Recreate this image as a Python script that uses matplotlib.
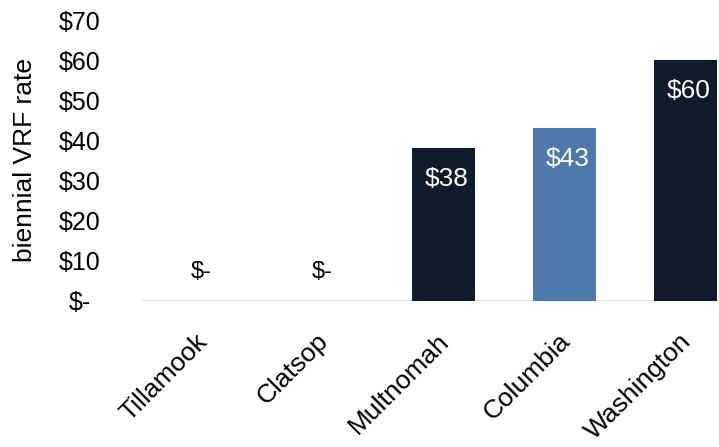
import matplotlib
matplotlib.use("Agg")
import matplotlib.pyplot as plt
from matplotlib.transforms import ScaledTranslation

plt.rcParams['font.family'] = ['Liberation Sans', 'DejaVu Sans']

counties = ['Tillamook', 'Clatsop', 'Multnomah', 'Columbia', 'Washington']
rates = [0, 0, 38, 43, 60]
rate_labels = ['$-', '$-', '$38', '$43', '$60']
yticks = [0, 10, 20, 30, 40, 50, 60, 70]
ytick_labels = ['$-', '$10', '$20', '$30', '$40', '$50', '$60', '$70']

dark = '#0f1b2b'
blue = '#4e7aab'
colors = [dark, dark, dark, blue, dark]

fig = plt.figure(figsize=(7.19, 4.47), dpi=100)
ax = fig.add_axes([141 / 719, 146 / 447, 578 / 719, 301 / 447])

x = range(len(counties))
ax.bar(x, rates, width=0.52, color=colors)
ax.axhline(0, color='#e6e6e6', lw=2, zorder=0)

for i, (v, lab) in enumerate(zip(rates, rate_labels)):
    if v > 0:
        ax.annotate(lab, (i, v), xytext=(2.5, -22), textcoords='offset points',
                    ha='center', va='center', color='white', fontsize=19)
    else:
        ax.annotate(lab, (i, v), xytext=(0, 21), textcoords='offset points',
                    ha='center', va='center', color='black', fontsize=17)

ax.set_xlim(-0.5, 4.28)
ax.set_ylim(0, 75)
ax.set_yticks(yticks)
ax.set_yticklabels(ytick_labels, fontsize=18, ha='center')
ax.set_xticks(list(x))
ax.set_xticklabels(counties, rotation=45, ha='right', rotation_mode='anchor', fontsize=19)
ax.tick_params(length=0)
ax.tick_params(axis='y', pad=44)
ax.tick_params(axis='x', pad=26)
shift = ScaledTranslation(-6 / 100, 8 / 100, fig.dpi_scale_trans)
for t in ax.get_xticklabels():
    t.set_transform(t.get_transform() + shift)
for s in ax.spines.values():
    s.set_visible(False)

fig.text(25 / 719, 1 - 160 / 447, 'biennial VRF rate', rotation=90,
         ha='center', va='center', fontsize=19)

fig.savefig('out.png', dpi=100)
